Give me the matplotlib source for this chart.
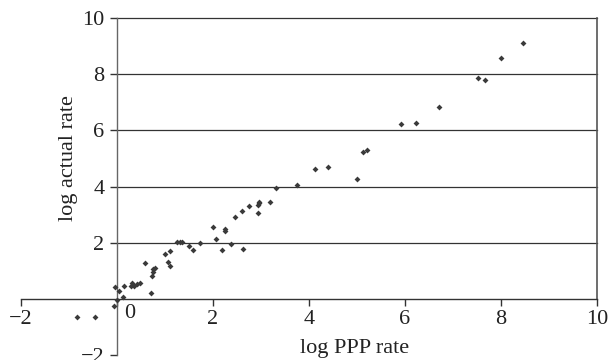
import matplotlib
matplotlib.use("Agg")
import matplotlib.pyplot as plt

plt.rcParams['font.family'] = ['Liberation Serif', 'DejaVu Serif']

# log PPP rate vs log actual rate
ppp_rate = [8.46, 7.99, 7.53, 7.66, 6.70, 6.22, 5.91, 5.20, 5.13, 5.00, 4.40, 4.12,
            3.74, 3.32, 3.18, 2.96, 2.94, 2.96, 2.94, 2.74, 2.61, 2.46, 2.25, 2.24,
            2.00, 2.07, 2.37, 2.19, 2.63, 1.72, 1.58, 1.51, 1.35, 1.26, 1.31, 1.10,
            1.01, 1.06, 1.10, 0.58, 0.79, 0.74, 0.74, 0.72, 0.71, 0.48, 0.42, 0.36,
            0.31, 0.29, 0.15, -0.04, 0.04, 0.13, 0.00, -0.07, -0.84, -0.46]
actual_rate = [9.11, 8.59, 7.85, 7.79, 6.83, 6.25, 6.22, 5.30, 5.22, 4.26, 4.70, 4.61,
               4.07, 3.94, 3.45, 3.45, 3.33, 3.40, 3.07, 3.29, 3.14, 2.91, 2.48, 2.40,
               2.56, 2.14, 1.97, 1.74, 1.78, 2.00, 1.73, 1.87, 2.04, 2.04, 2.04, 1.72,
               1.58, 1.31, 1.16, 1.27, 1.09, 1.06, 0.95, 0.83, 0.19, 0.58, 0.53, 0.47,
               0.56, 0.44, 0.44, 0.42, 0.27, 0.08, -0.03, -0.26, -0.63, -0.66]

x_ticks = [-2, 0, 2, 4, 6, 8, 10]
y_ticks = [-2, 2, 4, 6, 8, 10]
grid_levels = [2, 4, 6, 8, 10]

fig = plt.figure(figsize=(6.13, 3.6), dpi=100)
ax = fig.add_axes([21 / 613, 5 / 360, 576 / 613, 337 / 360])
ax.set_xlim(-2, 10)
ax.set_ylim(-2, 10)

for g in grid_levels:
    ax.plot([0, 10], [g, g], color='#333333', lw=0.9, zorder=1, clip_on=False)
ax.plot([10, 10], [0, 10], color='#555555', lw=1.2, zorder=1, clip_on=False)

ax.scatter(ppp_rate, actual_rate, marker='D', s=9, color='#3a3a3a',
           linewidths=0, zorder=3)

for side in ['top', 'right']:
    ax.spines[side].set_visible(False)
ax.spines['left'].set_position(('data', 0))
ax.spines['bottom'].set_position(('data', 0))
ax.spines['left'].set_color('#666666')
ax.spines['bottom'].set_color('#333333')
ax.spines['left'].set_linewidth(1.0)
ax.spines['bottom'].set_linewidth(1.0)

ax.set_xticks(x_ticks)
ax.set_xticklabels(['\u2212' + str(-t) if t < 0 else ('' if t == 0 else str(t)) for t in x_ticks])
ax.set_yticks(y_ticks)
ax.set_yticklabels(['\u2212' + str(-t) if t < 0 else str(t) for t in y_ticks])
ax.tick_params(axis='both', direction='out', length=5, width=1.0, colors='#333333',
               labelcolor='#222222', labelsize=16)
ax.tick_params(axis='x', pad=3)
ax.tick_params(axis='y', pad=4)

# "0" label sits to the right of the y axis
ax.text(0.27, -0.2, '0', ha='center', va='top', fontsize=16, color='#222222')

ax.text(0.082, 0.585, 'log actual rate', transform=ax.transAxes, rotation=90,
        ha='center', va='center', fontsize=16, color='#222222')
fig.text(355 / 613, 1 - 349 / 360, 'log PPP rate', ha='center', va='center',
         fontsize=16, color='#222222')

fig.savefig('out.png', dpi=100)
